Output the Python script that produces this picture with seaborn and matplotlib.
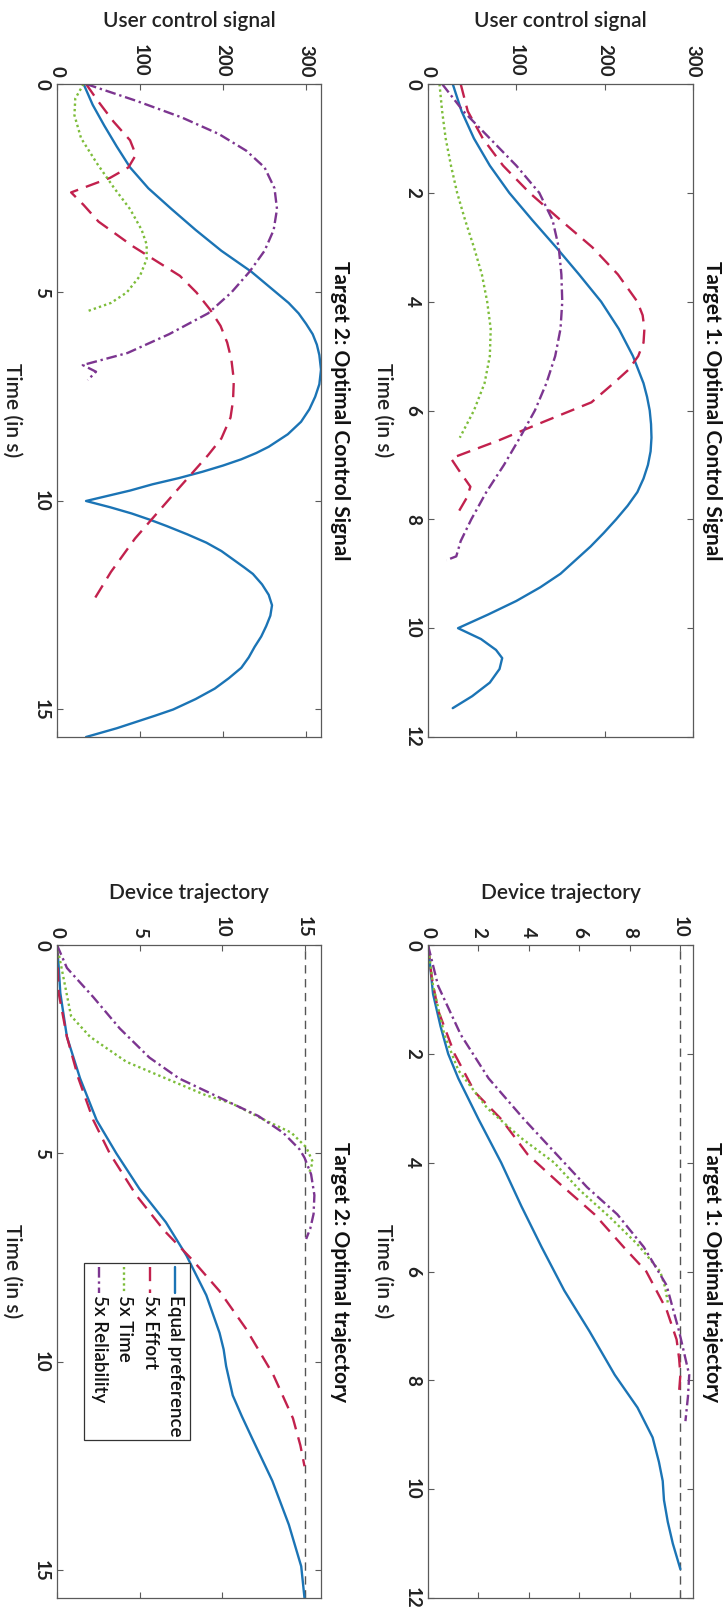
import numpy as np
import matplotlib
matplotlib.use("Agg")
import matplotlib.pyplot as plt
import seaborn as sns
from matplotlib.patches import Rectangle

sns.set_theme(style="white")
plt.rcParams["font.family"] = ["Lato", "DejaVu Sans"]

# ---------------------------------------------------------------- data
SERIES = ["Equal preference", "5x Effort", "5x Time", "5x Reliability"]

# Target 1: optimal control signal (time in s, control value)
t1_ctrl_eq_t = [0, 0.5, 1.0, 1.5, 2.0, 2.5, 3.0, 3.5, 4.0, 4.5, 5.0, 5.5, 5.75, 6.0, 6.25, 6.5,
                6.75, 7.0, 7.25, 7.5, 7.75, 8.0, 8.25, 8.5, 8.75, 9.0, 9.25, 9.5, 9.75, 10.0,
                10.2, 10.4, 10.55, 10.75, 11.0, 11.25, 11.47]
t1_ctrl_eq_v = [28, 38, 52, 70, 92, 118, 145, 171, 196, 216, 232, 244, 248, 251, 252.5, 253,
                252, 249, 244, 237, 226, 213, 199, 184, 167, 150, 127, 100, 68, 34,
                60, 77, 84, 81, 70, 50, 28]
t1_ctrl_ef_t = [0, 0.5, 1.0, 1.5, 2.0, 2.5, 3.0, 3.5, 4.0, 4.25, 4.5, 4.75, 5.0, 5.25, 5.5,
                5.85, 6.2, 6.55, 6.88, 7.1, 7.4, 7.6, 7.85]
t1_ctrl_ef_v = [37, 45, 62, 85, 115, 150, 186, 215, 237, 243, 245, 244, 238, 227, 210,
                185, 132, 80, 26, 35, 48, 44, 35]
t1_ctrl_ti_t = [0, 0.5, 1.0, 1.5, 2.0, 2.5, 3.0, 3.5, 4.0, 4.5, 5.0, 5.5, 6.0, 6.5]
t1_ctrl_ti_v = [13, 16, 20, 26, 33, 42, 52, 61, 67, 71, 70, 64, 52, 36]
t1_ctrl_re_t = [0, 0.5, 1.0, 1.5, 2.0, 2.5, 3.0, 3.5, 4.0, 4.5, 5.0, 5.5, 6.0, 6.5, 7.0, 7.5,
                8.0, 8.4, 8.68, 8.75]
t1_ctrl_re_v = [16, 40, 70, 100, 126, 141, 148, 151, 152, 150, 144, 134, 121, 104, 86, 66,
                49, 37, 32, 21]

# Target 2: optimal control signal
t2_ctrl_eq_t = [0, 0.5, 1.0, 1.5, 2.0, 2.5, 3.0, 3.5, 4.0, 4.5, 5.0, 5.25, 5.5, 5.75, 6.0,
                6.25, 6.5, 6.85, 7.2, 7.5, 7.8, 8.1, 8.4, 8.7, 8.85, 9.0, 9.15, 9.3, 9.45,
                9.6, 9.75, 10.0, 10.15, 10.3, 10.45, 10.6, 10.8, 11.0, 11.2, 11.4, 11.6,
                11.75, 12.0, 12.25, 12.5, 12.75, 13.0, 13.25, 13.5, 13.75, 14.0, 14.25,
                14.5, 14.75, 15.0, 15.15, 15.3, 15.45, 15.66]
t2_ctrl_eq_v = [32, 43, 57, 72, 88, 110, 138, 167, 198, 234, 264, 279, 291, 300, 308,
                313, 316, 318, 316, 311, 304, 294, 278, 255, 240, 222, 200, 175, 147,
                115, 88, 35, 64, 90, 112, 132, 157, 180, 198, 212, 226,
                236, 247, 255, 259, 257, 252, 246, 238, 231, 222, 207,
                190, 167, 140, 118, 95, 72, 35]
t2_ctrl_ef_t = [0, 0.4, 0.9, 1.35, 1.7, 2.0, 2.25, 2.6, 2.9, 3.3, 3.9, 4.6, 5.0, 5.4, 5.8, 6.2,
                6.6, 7.1, 7.6, 8.0, 8.5, 8.9, 9.8, 10.9, 11.7, 12.45]
t2_ctrl_ef_v = [35, 49, 68, 88, 95, 86, 64, 17, 32, 50, 92, 148, 168, 184, 197, 205,
                210, 213, 212, 209, 198, 182, 142, 94, 65, 42]
t2_ctrl_ti_t = [0, 0.35, 0.75, 1.3, 1.9, 2.5, 3.0, 3.5, 3.85, 4.2, 4.6, 5.0, 5.25, 5.46]
t2_ctrl_ti_v = [32, 22, 21, 29, 48, 69, 88, 102, 108, 108, 100, 84, 65, 35]
t2_ctrl_re_t = [0, 0.4, 0.8, 1.2, 1.6, 2.0, 2.5, 3.0, 3.5, 4.0, 4.5, 5.0, 5.5, 6.0, 6.45, 6.74,
                6.9, 7.1]
t2_ctrl_re_v = [35, 95, 150, 195, 228, 250, 262, 265, 261, 250, 232, 210, 182, 135, 85, 31,
                47, 37]

# Target 1: optimal trajectory (device position)
t1_traj_eq_t = [0, 0.9, 1.5, 2.0, 2.45, 3.2, 4.0, 4.8, 5.55, 6.35, 7.1, 7.9, 8.5, 9.05, 9.5,
                9.85, 10.2, 10.6, 11.0, 11.47]
t1_traj_eq_v = [0, 0.2, 0.5, 0.8, 1.2, 2.0, 2.9, 3.7, 4.5, 5.4, 6.4, 7.4, 8.3, 8.9, 9.15,
                9.3, 9.35, 9.5, 9.7, 10.0]
t1_traj_ef_t = [0, 0.6, 1.2, 2.0, 2.7, 3.2, 3.85, 4.4, 4.95, 5.55, 6.0, 6.7, 7.25, 7.6, 7.9, 8.2]
t1_traj_ef_v = [0, 0.15, 0.4, 1.05, 1.85, 2.9, 3.95, 5.25, 6.6, 7.75, 8.65, 9.45, 9.85, 9.95,
                10.0, 9.95]
t1_traj_ti_t = [0, 0.75, 1.65, 2.3, 3.0, 3.55, 4.0, 4.5, 5.0, 5.5, 6.0, 6.3, 6.57]
t1_traj_ti_v = [0, 0.2, 0.65, 1.2, 2.35, 3.7, 5.0, 6.0, 7.2, 8.3, 9.2, 9.4, 9.5]
t1_traj_re_t = [0, 0.75, 1.65, 2.45, 3.2, 3.85, 4.45, 4.95, 5.55, 6.25, 7.1, 7.6, 7.9, 8.3, 8.75]
t1_traj_re_v = [0, 0.4, 1.3, 2.4, 3.8, 5.1, 6.3, 7.5, 8.55, 9.45, 9.95, 10.2, 10.35, 10.3, 10.2]

# Target 2: optimal trajectory
t2_traj_eq_t = [0, 0.5, 1.15, 2.2, 3.2, 4.2, 5.0, 5.85, 6.65, 7.45, 8.4, 9.3, 9.7, 10.1, 10.8,
                11.3, 11.85, 12.85, 13.9, 14.9, 15.66]
t2_traj_eq_v = [0, 0.1, 0.2, 0.6, 1.4, 2.4, 3.6, 5.0, 6.6, 7.85, 9.05, 9.85, 10.1, 10.25,
                10.65, 11.2, 11.85, 13.05, 14.05, 14.8, 15.0]
t2_traj_ef_t = [0, 1.15, 2.2, 3.2, 4.2, 5.0, 6.0, 6.85, 7.55, 8.3, 9.2, 10.3, 11.35, 12.0, 12.5]
t2_traj_ef_v = [0, 0.1, 0.6, 1.3, 2.2, 3.2, 4.8, 6.5, 8.2, 9.85, 11.45, 13.1, 14.3, 14.75, 15.0]
t2_traj_ti_t = [0, 0.8, 1.7, 2.2, 2.8, 3.2, 3.6, 3.8, 4.2, 4.5, 4.85, 5.2, 5.45]
t2_traj_ti_v = [0, 0.4, 0.85, 2.0, 4.2, 6.6, 9.0, 10.6, 12.6, 14.2, 15.1, 15.5, 15.3]
t2_traj_re_t = [0, 0.55, 1.25, 2.0, 2.7, 3.2, 3.5, 3.8, 4.1, 4.5, 4.9, 5.1, 5.5, 6.0, 6.45,
                6.8, 7.05]
t2_traj_re_v = [0, 0.6, 2.2, 3.8, 5.6, 7.4, 9.0, 10.6, 12.2, 13.7, 14.7, 15.0, 15.4, 15.6,
                15.55, 15.35, 15.1]

targets = [10, 15]

# ---------------------------------------------------------------- style
colors = {"Equal preference": "#1b74b5", "5x Effort": "#c2214d",
          "5x Time": "#7dbd3a", "5x Reliability": "#7c3590"}
styles = {"Equal preference": "-", "5x Effort": (0, (6, 3.5)),
          "5x Time": (0, (1, 1.3)), "5x Reliability": (0, (4.5, 1.6, 1, 1.6))}
LW = 1.7
SPINE = "#5a5a5a"
FS_TICK = 13.5
FS_LAB = 15

fig = plt.figure(figsize=(7.25, 16.16), dpi=100)
W, H = 725.0, 1616.0


def axes_at(x0, x1, y0, y1):
    return fig.add_axes([x0 / W, 1 - y1 / H, (x1 - x0) / W, (y1 - y0) / H])


panels = [
    dict(box=(428, 693, 84, 737), xlim=(0, 300), ylim=12, xt=[0, 100, 200, 300],
         yt=[0, 2, 4, 6, 8, 10, 12], title="Target 1: Optimal Control Signal",
         vlabel="User control signal", vy=1.097,
         data=[(t1_ctrl_eq_t, t1_ctrl_eq_v), (t1_ctrl_ef_t, t1_ctrl_ef_v),
               (t1_ctrl_ti_t, t1_ctrl_ti_v), (t1_ctrl_re_t, t1_ctrl_re_v)], target=None),
    dict(box=(57, 321, 84, 737), xlim=(0, 318), ylim=15.66, xt=[0, 100, 200, 300],
         yt=[0, 5, 10, 15], title="Target 2: Optimal Control Signal",
         vlabel="User control signal", vy=1.097,
         data=[(t2_ctrl_eq_t, t2_ctrl_eq_v), (t2_ctrl_ef_t, t2_ctrl_ef_v),
               (t2_ctrl_ti_t, t2_ctrl_ti_v), (t2_ctrl_re_t, t2_ctrl_re_v)], target=None),
    dict(box=(428, 693, 945, 1598), xlim=(0, 10.5), ylim=12, xt=[0, 2, 4, 6, 8, 10],
         yt=[0, 2, 4, 6, 8, 10, 12], title="Target 1: Optimal trajectory",
         vlabel="Device trajectory", vy=1.08,
         data=[(t1_traj_eq_t, t1_traj_eq_v), (t1_traj_ef_t, t1_traj_ef_v),
               (t1_traj_ti_t, t1_traj_ti_v), (t1_traj_re_t, t1_traj_re_v)], target=targets[0]),
    dict(box=(57, 321, 945, 1598), xlim=(0, 16), ylim=15.66, xt=[0, 5, 10, 15],
         yt=[0, 5, 10, 15], title="Target 2: Optimal trajectory",
         vlabel="Device trajectory", vy=1.08,
         data=[(t2_traj_eq_t, t2_traj_eq_v), (t2_traj_ef_t, t2_traj_ef_v),
               (t2_traj_ti_t, t2_traj_ti_v), (t2_traj_re_t, t2_traj_re_v)], target=targets[1]),
]

axes = []
for p in panels:
    ax = axes_at(*p["box"])
    axes.append(ax)
    if p["target"] is not None:
        ax.axvline(p["target"], color="#555555", lw=1.0, ls=(0, (6, 4)), zorder=1)
    for name, (tt, vv) in zip(SERIES, p["data"]):
        sns.lineplot(x=vv, y=tt, orient="y", sort=False, estimator=None, ax=ax,
                     color=colors[name], linestyle=styles[name], linewidth=LW)
    ax.set_xlim(*p["xlim"])
    ax.set_ylim(p["ylim"], 0)
    ax.set_xticks(p["xt"])
    ax.set_yticks(p["yt"])
    ax.set_xticklabels([str(v) for v in p["xt"]])
    ax.set_yticklabels([str(v) for v in p["yt"]])
    ax.xaxis.tick_top()
    ax.tick_params(axis="both", which="both", direction="in", length=4.5, width=0.8,
                   color=SPINE, top=True, bottom=True, left=True, right=True,
                   labeltop=True, labelbottom=False, labelleft=True, labelright=False,
                   labelsize=FS_TICK, labelcolor="#222222")
    ax.tick_params(axis="x", labelrotation=-90, pad=5)
    ax.tick_params(axis="y", labelrotation=-90, pad=5)
    for lbl in ax.get_xticklabels() + ax.get_yticklabels():
        lbl.set_fontweight("bold")
    for lbl in ax.get_yticklabels():
        lbl.set_verticalalignment("center")
    for s in ax.spines.values():
        s.set_color(SPINE)
        s.set_linewidth(0.9)
    ax.set_xlabel("")
    ax.set_ylabel("")
    wpx = p["box"][1] - p["box"][0]
    ax.text(1 + 19.0 / wpx, 0.5, p["title"], transform=ax.transAxes, rotation=-90,
            ha="center", va="center", fontsize=FS_LAB, fontweight="bold", color="#111111")
    ax.text(-45.0 / wpx, 0.5, "Time (in s)", transform=ax.transAxes, rotation=-90,
            ha="center", va="center", fontsize=FS_LAB, fontweight="semibold",
            color="#222222")
    ax.text(0.5, p["vy"], p["vlabel"], transform=ax.transAxes, ha="center", va="center",
            fontsize=FS_LAB, fontweight="semibold", color="#222222")

# legend drawn in the rotated orientation inside the Target 2 trajectory panel
lax = axes[3]
bx0, bx1, by0, by1 = 84, 190, 1263, 1440
x0a, y0a, x1a, y1a = 57, 945, 321, 1598


def fx(x):
    return (x - x0a) / (x1a - x0a)


def fy(y):
    return 1 - (y - y0a) / (y1a - y0a)


lax.add_patch(Rectangle((fx(bx0), fy(by1)), fx(bx1) - fx(bx0), fy(by0) - fy(by1),
                        transform=lax.transAxes, facecolor="white", edgecolor="#333333",
                        lw=0.9, zorder=5))
col_x = [175, 150, 124, 99]
for name, cx in zip(SERIES, col_x):
    lax.plot([fx(cx), fx(cx)], [fy(by0 + 4), fy(by0 + 30)], transform=lax.transAxes,
             color=colors[name], ls=styles[name], lw=LW, zorder=6)
    lax.text(fx(cx), fy(by0 + 32), name, transform=lax.transAxes, rotation=-90,
             ha="center", va="top", fontsize=13.5, fontweight="semibold",
             color="#111111", zorder=6)

fig.savefig("out.png", dpi=100)
